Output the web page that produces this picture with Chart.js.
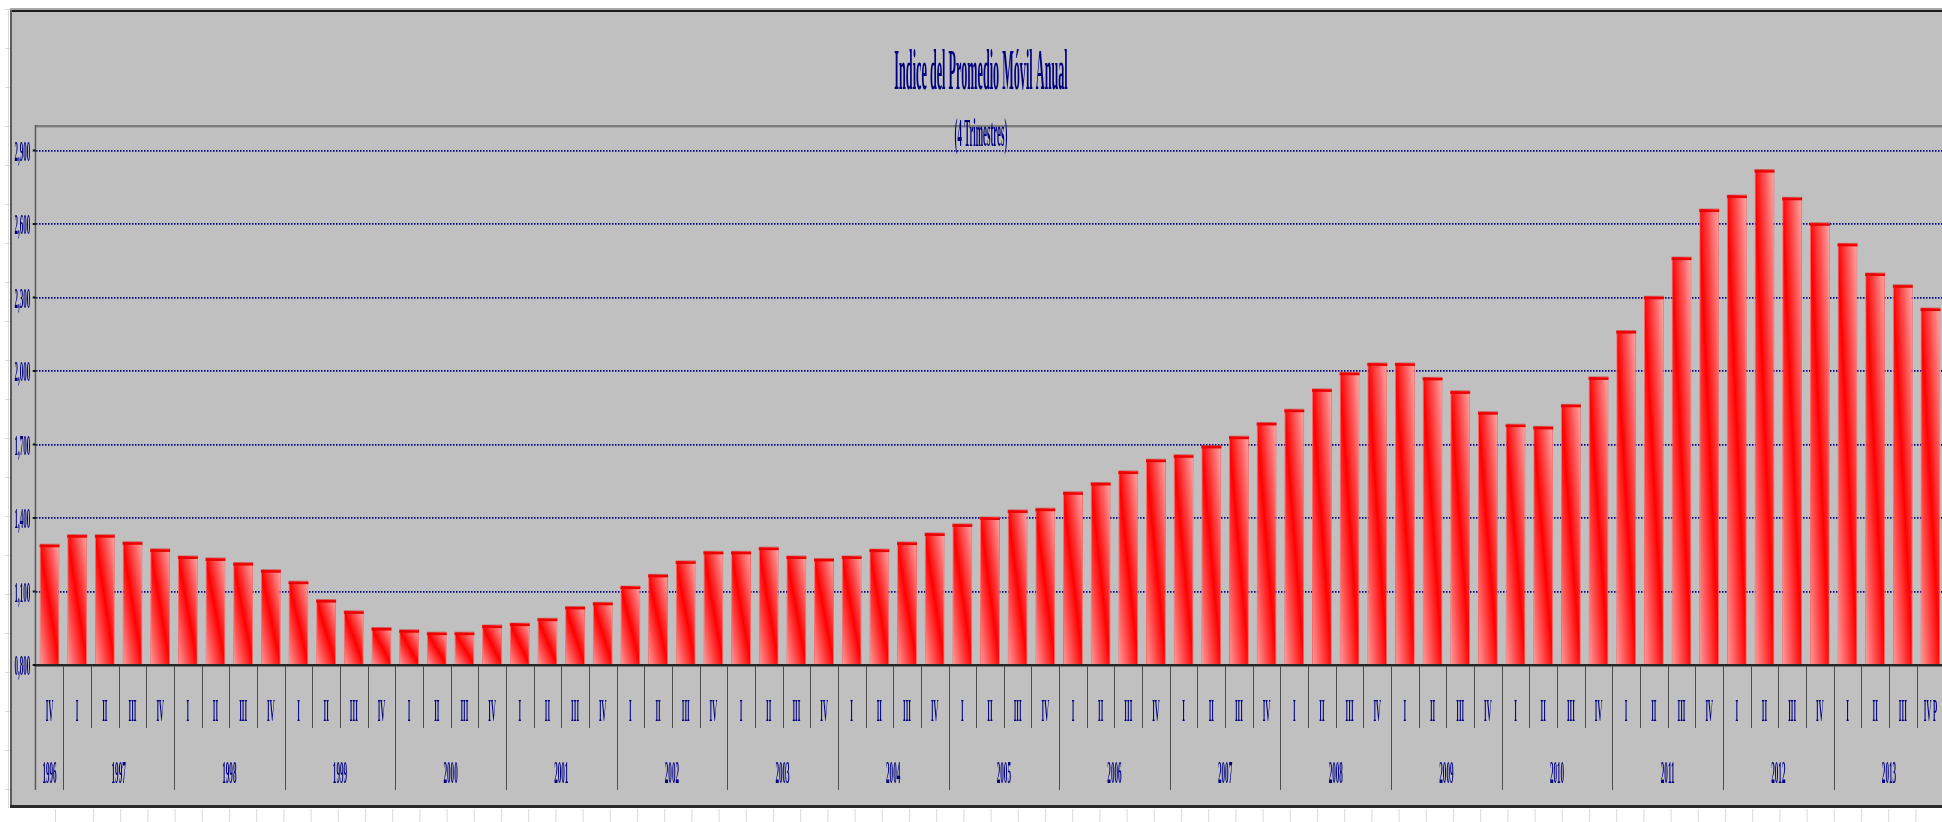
<!DOCTYPE html>
<html lang="es">
<head>
<meta charset="utf-8">
<title>Indice del Promedio Móvil Anual</title>
<script src="https://cdn.jsdelivr.net/npm/chart.js@4.4.1/dist/chart.umd.min.js"></script>
<style>
  html, body { margin: 0; padding: 0; background: #fff; overflow: hidden; }
  #wrap { width: 1950px; height: 822px; }
</style>
</head>
<body>
<div id="wrap"><canvas id="grafico" width="1950" height="822"></canvas></div>
<script>
const titulo = 'Indice del Promedio Móvil Anual';
const subtitulo = '(4 Trimestres)';

// años y cuántos trimestres de cada uno aparecen
const anios = ['1996', '1997', '1998', '1999', '2000', '2001', '2002', '2003', '2004',
               '2005', '2006', '2007', '2008', '2009', '2010', '2011', '2012', '2013'];
const trimestresPorAnio = [1, 4, 4, 4, 4, 4, 4, 4, 4, 4, 4, 4, 4, 4, 4, 4, 4, 4];

const trimestres = [
  'IV',
  'I', 'II', 'III', 'IV',   // 1997
  'I', 'II', 'III', 'IV',   // 1998
  'I', 'II', 'III', 'IV',   // 1999
  'I', 'II', 'III', 'IV',   // 2000
  'I', 'II', 'III', 'IV',   // 2001
  'I', 'II', 'III', 'IV',   // 2002
  'I', 'II', 'III', 'IV',   // 2003
  'I', 'II', 'III', 'IV',   // 2004
  'I', 'II', 'III', 'IV',   // 2005
  'I', 'II', 'III', 'IV',   // 2006
  'I', 'II', 'III', 'IV',   // 2007
  'I', 'II', 'III', 'IV',   // 2008
  'I', 'II', 'III', 'IV',   // 2009
  'I', 'II', 'III', 'IV',   // 2010
  'I', 'II', 'III', 'IV',   // 2011
  'I', 'II', 'III', 'IV',   // 2012
  'I', 'II', 'III', 'IV P'  // 2013
];

const valores = [
  1.293,
  1.332, 1.332, 1.303, 1.274,
  1.245, 1.237, 1.218, 1.189,
  1.142, 1.067, 1.021, 0.953,
  0.944, 0.934, 0.934, 0.963,
  0.971, 0.991, 1.039, 1.056,
  1.122, 1.170, 1.225, 1.264,
  1.264, 1.281, 1.245, 1.235,
  1.245, 1.273, 1.302, 1.339,
  1.376, 1.404, 1.433, 1.440,
  1.507, 1.545, 1.592, 1.640,
  1.658, 1.696, 1.734, 1.790,
  1.844, 1.927, 1.995, 2.033,
  2.033, 1.974, 1.919, 1.834,
  1.783, 1.774, 1.864, 1.976,
  2.165, 2.305, 2.465, 2.661,
  2.718, 2.822, 2.709, 2.605,
  2.521, 2.400, 2.352, 2.257
];

const ticksY = [0.8, 1.1, 1.4, 1.7, 2.0, 2.3, 2.6, 2.9];

const AZUL = '#000080';
const FUENTE = '"Liberation Serif", "Times New Roman", serif';

// texto muy estrechado, como en el original
function texto(ctx, t, x, y, size, align, sx) {
  ctx.save();
  ctx.translate(x, y);
  ctx.scale(sx, 1);
  ctx.font = 'bold ' + size + 'px ' + FUENTE;
  ctx.textAlign = align;
  ctx.textBaseline = 'alphabetic';
  ctx.fillStyle = AZUL;
  ctx.fillText(t, 0, 0);
  ctx.restore();
}

function degradado(c) {
  const chart = c.chart;
  if (!chart.chartArea || c.type !== 'data') return '#ff0000';
  const xs = chart.scales.x, ys = chart.scales.y;
  const w = xs.width / trimestres.length * 0.72;
  const x0 = xs.getPixelForValue(c.dataIndex) - w / 2;
  const top = ys.getPixelForValue(c.raw);
  const bot = ys.getPixelForValue(ticksY[0]);
  const h = Math.max(bot - top, 1);
  const L2 = w * w + h * h;
  const g = chart.ctx.createLinearGradient(x0, bot, x0 + 2 * w * h * h / L2, bot - 2 * w * w * h / L2);
  g.addColorStop(0, '#ff9e9e');
  g.addColorStop(0.5, '#ff0000');
  g.addColorStop(1, '#ffacac');
  return g;
}

const marco = {
  id: 'marco',
  beforeDraw(chart) {
    const ctx = chart.ctx, W = chart.width, H = chart.height;
    ctx.save();
    ctx.fillStyle = '#fff';
    ctx.fillRect(0, 0, W, H);
    // reglilla de la hoja de cálculo
    ctx.strokeStyle = '#dadada';
    ctx.lineWidth = 1;
    ctx.beginPath();
    ctx.moveTo(8.5, 9); ctx.lineTo(8.5, 808);
    for (let y = 9; y < 808; y += 39) { ctx.moveTo(5, y + 0.5); ctx.lineTo(11, y + 0.5); }
    ctx.moveTo(55.5, 809); ctx.lineTo(55.5, H);
    for (let x = 93.5; x < W; x += 27.2) { ctx.moveTo(x, 809); ctx.lineTo(x, H); }
    ctx.stroke();
    // panel gris
    ctx.fillStyle = '#c0c0c0';
    ctx.fillRect(11, 9, W - 11, 799);
    ctx.fillStyle = '#a8a8a8';
    ctx.fillRect(10, 8, W - 10, 2);
    ctx.fillStyle = '#1c1c1c';
    ctx.fillRect(10, 10, W - 10, 2);
    ctx.fillStyle = '#5c5c5c';
    ctx.fillRect(10, 10, 2, 798);
    ctx.fillStyle = '#2a2a2a';
    ctx.fillRect(10, 805, W - 10, 3);
    ctx.restore();
  },
  afterDatasetsDraw(chart) {
    const ctx = chart.ctx;
    ctx.save();
    chart.getDatasetMeta(0).data.forEach(bar => {
      const x0 = bar.x - bar.width / 2;
      ctx.fillStyle = 'rgba(210,0,0,0.45)';
      ctx.fillRect(x0, bar.y - 0.5, bar.width, 1);
      ctx.fillStyle = '#ec0000';
      ctx.fillRect(x0, bar.y + 0.5, bar.width, 2.5);
    });
    ctx.restore();
  },
  afterDraw(chart) {
    const ctx = chart.ctx, W = chart.width;
    const { left, right, top, bottom } = chart.chartArea;
    const xs = chart.scales.x, ys = chart.scales.y;
    const n = trimestres.length;
    const paso = xs.width / n;
    ctx.save();

    // borde superior del área y eje
    ctx.fillStyle = '#7c7c7c';
    ctx.fillRect(left, top - 1, W - left, 2);
    ctx.fillStyle = '#a6a6a6';
    ctx.fillRect(left, top + 1, W - left, 1);
    ctx.fillStyle = '#5a5a5a';
    ctx.fillRect(left - 1, top - 1, 1.5, bottom + 125 - top + 1);
    ctx.fillStyle = '#262626';
    ctx.fillRect(left - 1, bottom - 1, W - left + 1, 2.5);

    // eje Y: marcas y etiquetas
    ticksY.forEach(v => {
      const py = ys.getPixelForValue(v);
      ctx.fillStyle = '#111';
      ctx.fillRect(left - 3, py - 1, 3, 2);
      texto(ctx, v.toFixed(3).replace('.', ','), left - 5.5, py + 10, 29, 'right', 0.24);
    });

    // separadores de trimestre
    ctx.strokeStyle = '#4c4c4c';
    ctx.lineWidth = 1;
    ctx.beginPath();
    for (let i = 1; i < n; i++) {
      const bx = Math.round(xs.getPixelForValue(i) - paso / 2) + 0.5;
      ctx.moveTo(bx, bottom + 1);
      ctx.lineTo(bx, bottom + 63);
    }
    ctx.stroke();

    // etiquetas de trimestre
    trimestres.forEach((t, i) => {
      texto(ctx, t, xs.getPixelForValue(i), bottom + 56, 31, 'center', 0.22);
    });

    // años: separadores largos y etiquetas centradas
    let inicio = 0;
    ctx.beginPath();
    anios.forEach((a, k) => {
      const fin = inicio + trimestresPorAnio[k] - 1;
      const cx = (xs.getPixelForValue(inicio) + xs.getPixelForValue(fin)) / 2;
      texto(ctx, a, cx, bottom + 117.5, 31, 'center', 0.23);
      if (inicio > 0) {
        const bx = Math.round(xs.getPixelForValue(inicio) - paso / 2) + 0.5;
        ctx.moveTo(bx, bottom + 1);
        ctx.lineTo(bx, bottom + 125);
      }
      inicio = fin + 1;
    });
    ctx.stroke();

    // títulos
    const tx = (left + right) / 2 - 9;
    texto(ctx, titulo, tx, 89, 56, 'center', 0.218);
    texto(ctx, subtitulo, tx, 146, 41, 'center', 0.215);
    ctx.restore();
  }
};

new Chart(document.getElementById('grafico'), {
  type: 'bar',
  data: {
    labels: trimestres,
    datasets: [{
      label: titulo,
      data: valores,
      backgroundColor: degradado,
      borderColor: 'rgba(255,96,96,0.9)',
      borderWidth: { left: 1, right: 1, top: 0, bottom: 0 },
      borderSkipped: 'bottom',
      barPercentage: 0.72,
      categoryPercentage: 1.0
    }]
  },
  options: {
    responsive: false,
    animation: false,
    events: [],
    layout: { padding: { left: 35.7, top: 126, right: 5.7, bottom: 157 } },
    plugins: {
      legend: { display: false },
      title: { display: false },
      tooltip: { enabled: false }
    },
    scales: {
      x: { display: false },
      y: {
        min: 0.8,
        max: 3.0,
        afterBuildTicks: (scale) => { scale.ticks = ticksY.map(v => ({ value: v })); },
        ticks: { display: false },
        grid: { color: '#000080', lineWidth: 1.8, drawTicks: false },
        border: { display: false, dash: [1.5, 1.5] }
      }
    }
  },
  plugins: [marco]
});
</script>
</body>
</html>
